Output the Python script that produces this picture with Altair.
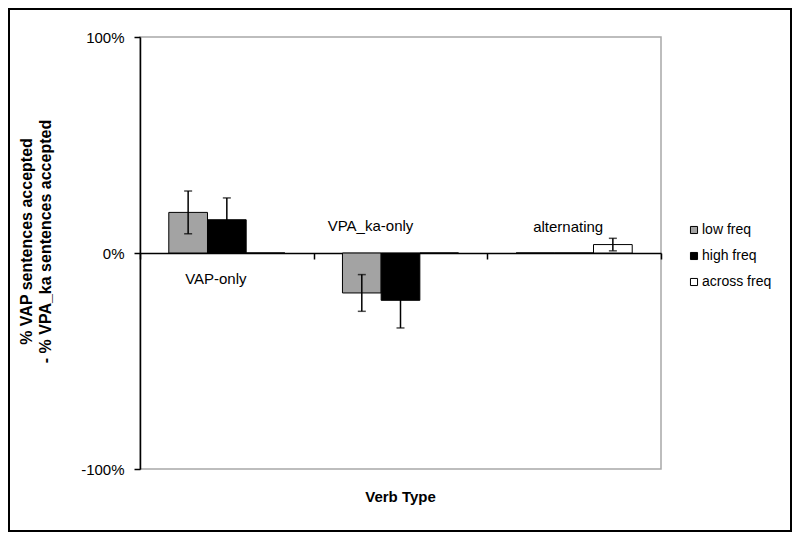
import altair as alt
import pandas as pd

categories = ["VAP-only", "VPA_ka-only", "alternating"]
series = ["low freq", "high freq", "across freq"]
colors = ["#a3a3a3", "#000000", "#ffffff"]

# values per series, in category order (fraction of 1 = 100%)
low_vals = [0.188, -0.185, 0.0]
high_vals = [0.154, -0.219, 0.0]
across_vals = [0.0, 0.0, 0.039]

# error bar half-widths (None = no error bar)
low_err = [0.099, 0.085, None]
high_err = [0.101, 0.128, None]
across_err = [None, None, 0.029]

rows = []
err_rows = []
for s, vals, errs in [(series[0], low_vals, low_err), (series[1], high_vals, high_err), (series[2], across_vals, across_err)]:
    for c, v, e in zip(categories, vals, errs):
        rows.append({"cat": c, "series": s, "value": v})
        if e is not None:
            err_rows.append({"cat": c, "series": s, "lo": v - e, "hi": v + e})
df = pd.DataFrame(rows)
edf = pd.DataFrame(err_rows)

W, H = 521, 432
FONT = "Liberation Sans"

xscale = alt.Scale(domain=categories, paddingInner=0, paddingOuter=0)
yscale = alt.Scale(domain=[-1, 1], nice=False)
offscale = alt.Scale(domain=series, paddingInner=0, paddingOuter=0.744)

x_enc = alt.X("cat:N", scale=xscale, sort=categories,
              axis=alt.Axis(orient="bottom", offset=-216, labels=False, title=None,
                            domainColor="black", domainWidth=1.5, tickColor="black",
                            tickWidth=1.5, tickSize=6, tickBand="extent", grid=False))

y_axis = alt.Axis(values=[-1, 0, 1],
                  labelExpr="(datum.value < 0 ? '-' : '') + abs(round(datum.value*100)) + '%'",
                  labelFontSize=15, labelColor="black", labelPadding=10,
                  tickSize=6, tickColor="black", tickWidth=1.5,
                  domainColor="black", domainWidth=1.5, grid=False,
                  title=["% VAP sentences  accepted", "- % VPA_ka sentences  accepted"],
                  titleFontSize=16, titleFontWeight="bold", titleColor="black",
                  titleAngle=270, titleAlign="center", titleBaseline="bottom",
                  titleX=-106, titleY=204, titleLineHeight=19)

bars = alt.Chart(df).mark_bar(stroke="black", strokeWidth=1).encode(
    x=x_enc,
    xOffset=alt.XOffset("series:N", scale=offscale, sort=series),
    y=alt.Y("value:Q", scale=yscale, axis=y_axis),
    fill=alt.Fill("series:N", sort=series,
                  scale=alt.Scale(domain=series, range=colors),
                  legend=alt.Legend(title=None, orient="none", legendX=547, legendY=186,
                                    symbolType="square", symbolSize=50,
                                    symbolStrokeColor="black", symbolStrokeWidth=1,
                                    labelFontSize=14, labelColor="black",
                                    labelOffset=1, rowPadding=12)),
)

err_rule = alt.Chart(edf).mark_rule(color="black", strokeWidth=1.5).encode(
    x=alt.X("cat:N", scale=xscale, sort=categories),
    xOffset=alt.XOffset("series:N", scale=offscale, sort=series),
    y=alt.Y("lo:Q", scale=yscale),
    y2="hi:Q",
)
cap_lo = alt.Chart(edf).mark_tick(color="black", size=8, thickness=1.5).encode(
    x=alt.X("cat:N", scale=xscale, sort=categories),
    xOffset=alt.XOffset("series:N", scale=offscale, sort=series),
    y=alt.Y("lo:Q", scale=yscale),
)
cap_hi = alt.Chart(edf).mark_tick(color="black", size=8, thickness=1.5).encode(
    x=alt.X("cat:N", scale=xscale, sort=categories),
    xOffset=alt.XOffset("series:N", scale=offscale, sort=series),
    y=alt.Y("hi:Q", scale=yscale),
)

# category labels drawn inside the plot, as in the original
label_specs = [("VAP-only", -0.12, -11), ("VPA_ka-only", 0.125, -30), ("alternating", 0.12, -6)]
label_layers = []
for name, yv, dx in label_specs:
    label_layers.append(
        alt.Chart(pd.DataFrame({"cat": [name]})).mark_text(
            fontSize=15, color="black", dx=dx, baseline="middle", align="center"
        ).encode(
            x=alt.X("cat:N", scale=xscale, sort=categories),
            y=alt.YDatum(yv),
            text="cat:N",
        )
    )

one = pd.DataFrame({"a": [0]})
xtitle = alt.Chart(one).mark_text(fontSize=15, fontWeight="bold", color="black",
                                  align="center", baseline="middle").encode(
    x=alt.value(W / 2), y=alt.value(460), text=alt.value("Verb Type"))

border = alt.Chart(one).mark_rect(fill=None, stroke="black", strokeWidth=2).encode(
    x=alt.value(-131), x2=alt.value(651), y=alt.value(-28), y2=alt.value(494))

chart = alt.layer(bars, err_rule, cap_lo, cap_hi, *label_layers, xtitle, border).properties(
    width=W, height=H,
    autosize=alt.AutoSizeParams(type="none"),
    padding={"left": 132, "top": 29, "right": 131, "bottom": 63},
).configure(font=FONT).configure_view(stroke="#a8a8a8", strokeWidth=1.5)

chart.save("out.html", embed_options={"renderer": "svg", "actions": False})
